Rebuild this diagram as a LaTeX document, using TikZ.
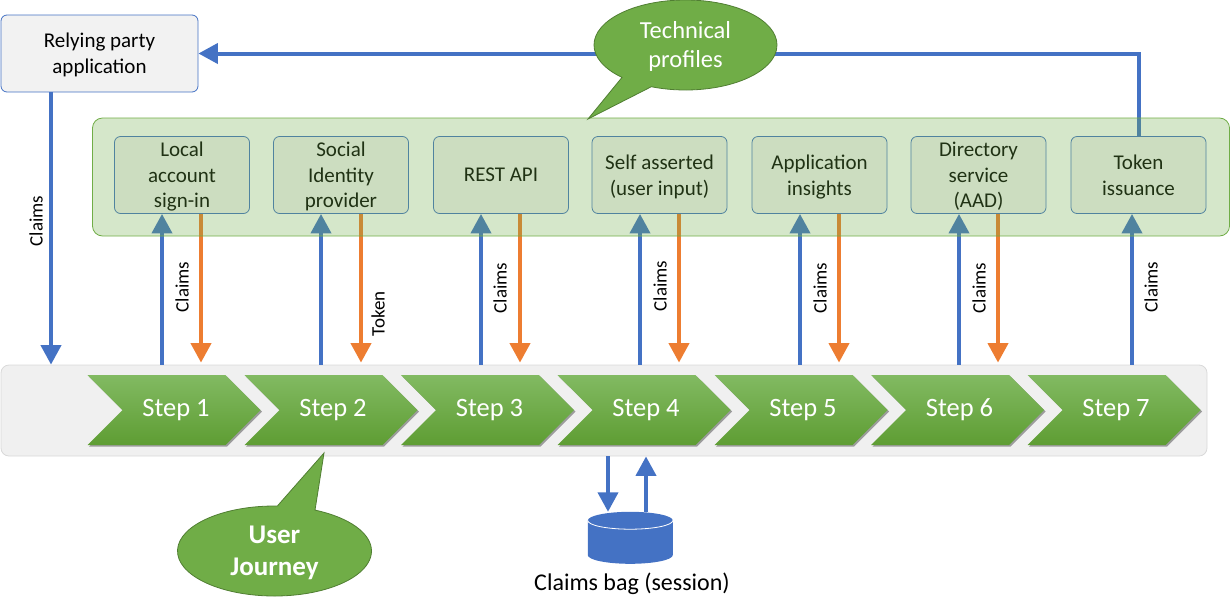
\documentclass[tikz,border=0pt]{standalone}
\usepackage{fontspec}
\setmainfont{Carlito}
\usetikzlibrary{arrows.meta,shapes.geometric,shapes.symbols,shapes.callouts,shadows}

\definecolor{flowblue}{HTML}{4472C4}
\definecolor{floworange}{HTML}{ED7D31}
\definecolor{leaf}{HTML}{70AD47}
\definecolor{leafdark}{HTML}{507E32}
\definecolor{paper}{HTML}{F2F2F2}
\definecolor{stepTop}{HTML}{82BA62}
\definecolor{stepMid}{HTML}{70B03F}
\definecolor{stepBot}{HTML}{5E9D33}

\tikzset{
  stepbox/.style={signal, signal to=east, signal from=west, signal pointer angle=90,
    minimum width=173pt, minimum height=70pt, inner sep=0pt, outer sep=0pt, text=white,
    font=\fontsize{26.5}{30}\selectfont, execute at begin node={\hspace{4pt}},
    top color=stepTop, middle color=stepMid, bottom color=stepBot,
    drop shadow={shadow xshift=1.5pt, shadow yshift=-1.5pt, fill=black, opacity=.35}},
  profilebox/.style={draw=flowblue, fill=paper, rounded corners=6pt, line width=.8pt,
    minimum width=135pt, minimum height=77pt, inner sep=0pt, align=center, text depth=0pt,
    font=\fontsize{21}{25.7}\selectfont},
  bubble/.style={ellipse callout, draw=leafdark, fill=leaf, text=white, align=center,
    inner sep=0pt, line width=.8pt, text depth=1pt},
  claimlabel/.style={rotate=90, inner sep=0pt, font=\fontsize{19}{22}\selectfont},
  tip/.style={-{Triangle[length=19.5pt, width=20pt]}}
}

\begin{document}
\begin{tikzpicture}[x=1pt,y=-1pt]

      \useasboundingbox (0,0) rectangle (1231,611);

      \node[draw=black!15, fill=black!6, rounded corners=8pt, line width=.8pt,
            minimum width=1206pt, minimum height=91pt, inner sep=0pt] (journey) at (604,410.5) {};

      \node[stepbox] (step1) at (174,410)   {Step 1};
      \node[stepbox] (step2) at (331,410)   {Step 2};
      \node[stepbox] (step3) at (487.5,410) {Step 3};
      \node[stepbox] (step4) at (644,410)   {Step 4};
      \node[stepbox] (step5) at (801,410)   {Step 5};
      \node[stepbox] (step6) at (957.5,410) {Step 6};
      \node[stepbox] (step7) at (1114,410)  {Step 7};

      \node[profilebox, minimum width=197pt] (party) at (99.5,53.5) {Relying party\\application};

      \node[profilebox] (local)  at (182,175)    {Local\\account\\sign-in};
      \node[profilebox] (social) at (341,175)    {Social\\Identity\\provider};
      \node[profilebox] (rest)   at (501,175)    {REST API};
      \node[profilebox] (self)   at (659.5,175)  {Self asserted\\(user input)};
      \node[profilebox] (insight) at (819.5,175) {Application\\insights};
      \node[profilebox] (aad)    at (978.5,175)  {Directory\\service\\(AAD)};
      \node[profilebox] (token)  at (1138.5,175) {Token\\issuance};

      \node[minimum width=85pt, minimum height=52pt, inner sep=0pt] (bag) at (630.5,538) {};
      \fill[flowblue] (bag.north west) ++(0,8.7) arc[start angle=180, end angle=0, x radius=42.5pt, y radius=8.7pt]
        -- ++(0,34.6) arc[start angle=0, end angle=-180, x radius=42.5pt, y radius=8.7pt] -- cycle;
      \draw[white, line width=.8pt] (bag.north west) ++(0,8.7) arc[start angle=180, end angle=360, x radius=42.5pt, y radius=8.7pt];
      \node[font=\fontsize{24}{28}\selectfont, inner sep=0pt] (baglabel) at (632,583.5) {Claims bag (session)};

      \begin{scope}[every edge/.style={draw=flowblue, line width=4pt, tip}]
        \path (162,0 |- journey.north)  edge (162,0 |- local.south);
        \path (321,0 |- journey.north)  edge (321,0 |- social.south);
        \path (481,0 |- journey.north)  edge (481,0 |- rest.south);
        \path (640,0 |- journey.north)  edge (640,0 |- self.south);
        \path (800,0 |- journey.north)  edge (800,0 |- insight.south);
        \path (959,0 |- journey.north)  edge (959,0 |- aad.south);
        \path (1132,0 |- journey.north) edge (1132,0 |- token.south);
        \path (51,0 |- party.south)     edge (51,0 |- journey.north);
        \path (608,0 |- journey.south)  edge (608,0 |- bag.north);
        \path (646,0 |- bag.north)      edge (646,0 |- journey.south);
        \path (token.north) edge[to path={|- (\tikztotarget)}] (party.east);
      \end{scope}

      \begin{scope}[every edge/.style={draw=floworange, line width=4pt, tip, shorten >=2pt}]
        \path (201,0 |- local.south)   edge (201,0 |- journey.north);
        \path (361,0 |- social.south)  edge (361,0 |- journey.north);
        \path (520,0 |- rest.south)    edge (520,0 |- journey.north);
        \path (679,0 |- self.south)    edge (679,0 |- journey.north);
        \path (839,0 |- insight.south) edge (839,0 |- journey.north);
        \path (998,0 |- aad.south)     edge (998,0 |- journey.north);
      \end{scope}

      \node[claimlabel] (claims0) at (36,221)    {Claims};
      \node[claimlabel] (claims1) at (182,287)   {Claims};
      \node[claimlabel] (token2)  at (378,314)   {Token};
      \node[claimlabel] (claims3) at (500,288)   {Claims};
      \node[claimlabel] (claims4) at (660,286)   {Claims};
      \node[claimlabel] (claims5) at (820,288)   {Claims};
      \node[claimlabel] (claims6) at (979,288)   {Claims};
      \node[claimlabel] (claims7) at (1151,287)  {Claims};

      % panel lies over the boxes and arrows
      \node[draw=leaf, fill=leaf, fill opacity=.29, draw opacity=1, rounded corners=10pt, line width=.8pt,
            minimum width=1137pt, minimum height=118pt, inner sep=0pt] (profiles) at (661,177) {};

      \coordinate (techtip) at (588,119);
      \coordinate (usertip) at (324,453);

      \node[bubble, minimum width=183pt, minimum height=90pt, callout absolute pointer={(techtip)},
            callout pointer arc=22, font=\fontsize{24.5}{29}\selectfont] (tech) at (685.5,45) {Technical\\profiles};
      \node[bubble, minimum width=194pt, minimum height=90pt, callout absolute pointer={(usertip)},
            callout pointer arc=23, font=\bfseries\fontsize{27}{32}\selectfont] (user) at (274.5,551) {User\\Journey};

    \end{tikzpicture}
\end{document}
